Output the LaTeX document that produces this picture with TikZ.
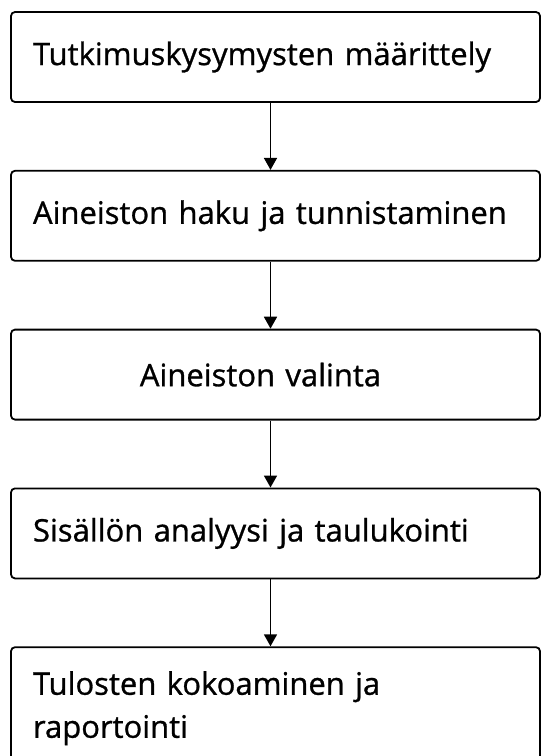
\documentclass[tikz,border=0pt]{standalone}
\usepackage{fontspec}
\setmainfont{Open Sans}
\newfontfamily\stepfont{Open Sans}[FakeBold=0.9]
\usepackage{tikz}
\usetikzlibrary{arrows.meta}
\usetikzlibrary{positioning}

\tikzset{
  stepbox/.style={draw, line width=1.8pt, rounded corners=4pt, fill=white,
    minimum width=529pt, minimum height=90pt, text width=485pt,
    inner xsep=22pt, align=left, font=\stepfont\fontsize{31}{43}\selectfont},
  steparrow/.style={line width=1.8pt, -{Triangle[length=12pt,width=13pt]}}
}

\begin{document}
\begin{tikzpicture}[x=1pt, y=-1pt]
  \useasboundingbox (0, 0) rectangle (541, 756);
  \node[stepbox] (s1) at (275.5, 57) {Tutkimuskysymysten määrittely};
  \node[stepbox, below=67pt of s1] (s2) {Aineiston haku ja tunnistaminen};
  \node[stepbox, below=67pt of s2, align=center] (s3) {\hspace*{-30pt}Aineiston valinta};
  \node[stepbox, below=67pt of s3] (s4) {Sisällön analyysi ja taulukointi};
  \node[stepbox, below=67pt of s4, minimum height=122pt] (s5) {Tulosten kokoaminen ja\\raportointi};
  \foreach \a/\b in {s1/s2, s2/s3, s3/s4, s4/s5} {
    \draw[steparrow] ([xshift=-5pt]\a.south) -- ([xshift=-5pt]\b.north);
  }
\end{tikzpicture}
\end{document}
